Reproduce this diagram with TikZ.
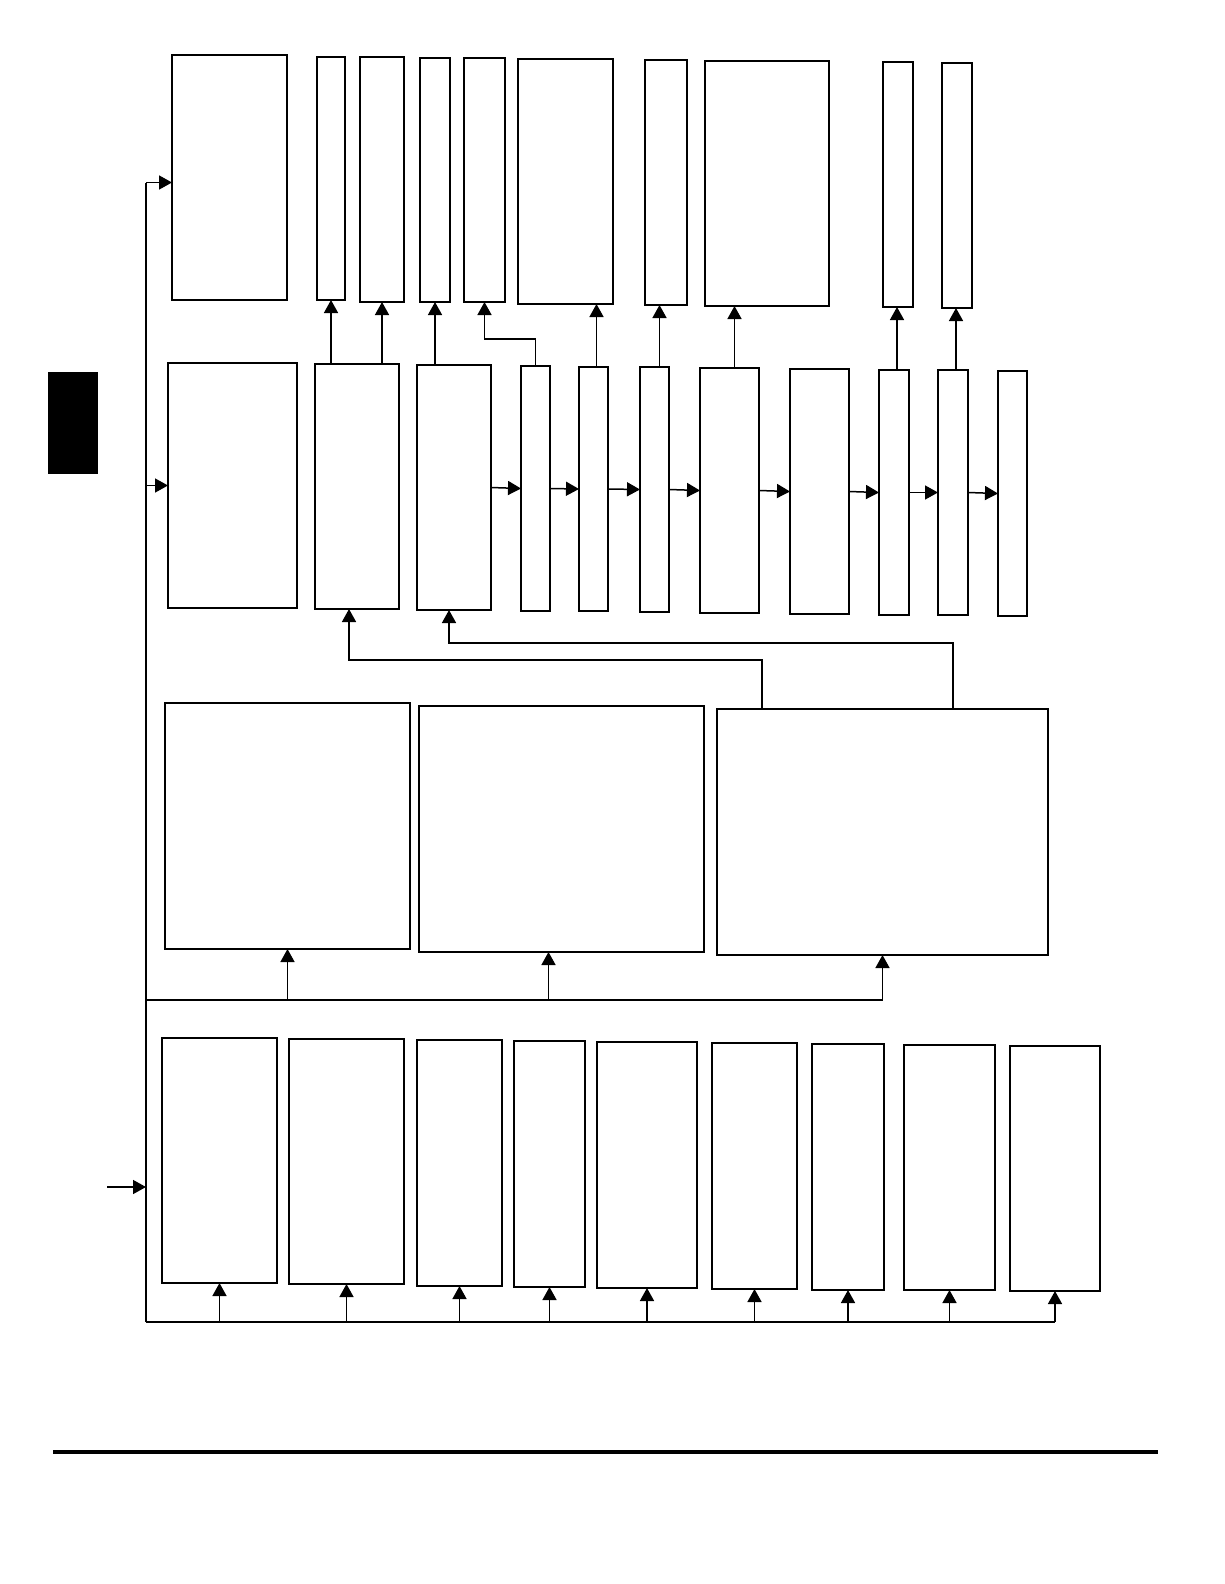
\documentclass[tikz,border=0pt]{standalone}
\usetikzlibrary{arrows.meta}
\tikzset{
  box/.style={draw,line width=1.5pt,inner sep=0pt,outer sep=0pt,fill=white},
  wire/.style={line width=1.5pt},
  arr/.style={line width=1.5pt,-{Triangle[length=13pt,width=14pt]}},
}
\newcommand\bx[5]{\node[box,minimum width={#4-#2},minimum height={#5-#3}] (#1) at ({(#2+#4)/2},{(#3+#5)/2}) {};}
\begin{document}
\begin{tikzpicture}[x=1pt,y=-1pt]
\useasboundingbox[fill=white] (0,0) rectangle (1224,1584);
% top row
\bx{T1}{172}{55}{287}{300}
\bx{T2}{317}{57}{345}{300}
\bx{T3}{360}{57}{404}{302}
\bx{T4}{420}{58}{450}{302}
\bx{T5}{464}{58}{505}{302}
\bx{T6}{518}{59}{613}{304}
\bx{T7}{645}{60}{687}{305}
\bx{T8}{705}{61}{829}{306}
\bx{T9}{883}{62}{913}{307}
\bx{T10}{942}{63}{972}{308}
% second row
\bx{M1}{168}{363}{297}{608}
\bx{M2}{315}{364}{399}{609}
\bx{M3}{417}{365}{491}{610}
\bx{M4}{521}{366}{550}{611}
\bx{M5}{579}{367}{608}{611}
\bx{M6}{640}{367}{669}{612}
\bx{M7}{700}{368}{759}{613}
\bx{M8}{790}{369}{849}{614}
\bx{M9}{879}{370}{909}{615}
\bx{M10}{938}{370}{968}{615}
\bx{M11}{998}{371}{1027}{616}
% third row
\bx{B1}{165}{703}{410}{949}
\bx{B2}{419}{706}{704}{952}
\bx{B3}{717}{709}{1048}{955}
% fourth row
\bx{L1}{162}{1038}{277}{1283}
\bx{L2}{289}{1039}{404}{1284}
\bx{L3}{417}{1040}{502}{1286}
\bx{L4}{514}{1041}{585}{1287}
\bx{L5}{597}{1042}{697}{1288}
\bx{L6}{712}{1043}{797}{1289}
\bx{L7}{812}{1044}{884}{1290}
\bx{L8}{904}{1045}{995}{1290}
\bx{L9}{1010}{1046}{1100}{1291}
% black tab
\node[fill=black,draw=none,minimum width=50pt,minimum height=102pt,inner sep=0pt] (tab) at (73,423) {};
% spine
\coordinate (s0) at (146,1322);
\coordinate (b0) at (146,1000);
\coordinate (in) at (107,1187);
\coordinate (t1in) at ([yshift=-5pt]T1.west);
\draw[wire] (s0) -- (s0 |- t1in);
\draw[arr] (s0 |- t1in) -- (t1in);
\draw[arr] (s0 |- M1.west) -- (M1.west);
\draw[arr] (in) -- (in -| s0);
% branch to third row
\draw[wire] (b0) -- (B3.south |- b0);
\draw[arr] (B1.south |- b0) -- (B1.south);
\draw[arr] ([xshift=-13pt]B2.south |- b0) -- ([xshift=-13pt]B2.south);
\draw[arr] (B3.south |- b0) -- (B3.south);
% bottom bus
\draw[wire] (s0) -- (L9.south |- s0);
\foreach \n in {L1,L2,L3,L4,L5,L6,L7,L8,L9}{
  \draw[arr] (\n.south |- s0) -- (\n.south);
}
% feedback from B3
\draw[arr] ([xshift=45pt]B3.north west) -- ++(0,-49) -| ([xshift=-8pt]M2.south);
\draw[arr] ([xshift=236pt]B3.north west) -- ++(0,-66) -| ([xshift=-5pt]M3.south);
% row 2 chain
\draw[arr] (M3.east) -- (M4.west);
\draw[arr] (M4.east) -- (M5.west);
\draw[arr] (M5.east) -- (M6.west);
\draw[arr] (M6.east) -- (M7.west);
\draw[arr] (M7.east) -- (M8.west);
\draw[arr] (M8.east) -- (M9.west);
\draw[arr] (M9.east) -- (M10.west);
\draw[arr] (M10.east) -- (M11.west);
% row 2 to top row
\draw[arr] (T2.south |- M2.north) -- (T2.south);
\draw[arr] (T3.south |- M2.north) -- (T3.south);
\draw[arr] (T4.south |- M3.north) -- (T4.south);
\draw[arr] (M4.north) -- ++(0,-27) -| (T5.south);
\draw[arr] ([xshift=3pt]M5.north) -- ([xshift=3pt]M5.north |- T6.south);
\draw[arr] ([xshift=5pt]M6.north) -- ([xshift=5pt]M6.north |- T7.south);
\draw[arr] ([xshift=5pt]M7.north) -- ([xshift=5pt]M7.north |- T8.south);
\draw[arr] ([xshift=3pt]M9.north) -- ([xshift=3pt]M9.north |- T9.south);
\draw[arr] ([xshift=3pt]M10.north) -- ([xshift=3pt]M10.north |- T10.south);
% bottom rule
\draw[line width=4.5pt] (53,1452) -- (1158,1452);
\end{tikzpicture}
\end{document}
